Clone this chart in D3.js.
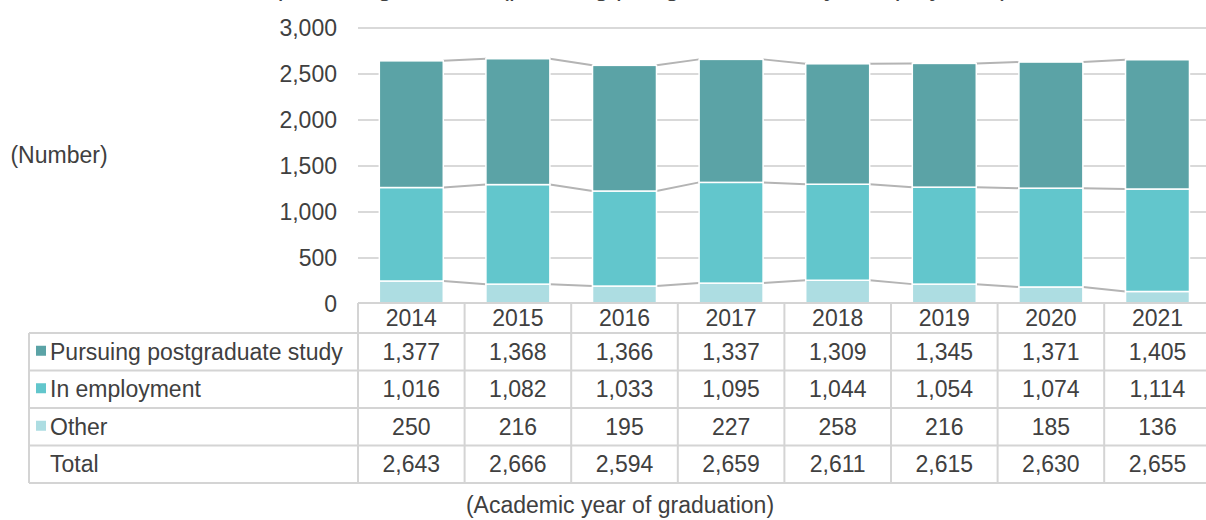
<!DOCTYPE html>
<html lang="en">
<head>
  <meta charset="UTF-8">
  <title>Career paths after graduation</title>
  <script src="https://d3js.org/d3.v7.min.js"></script>
  <style>
    body { margin: 0; background: #fff; }
    svg { display: block; font-family: "Liberation Sans", Arial, sans-serif; }
    text { fill: #404040; font-size: 23px; }
  </style>
</head>
<body>
<svg width="1206" height="520"></svg>
<script>
const years = ["2014", "2015", "2016", "2017", "2018", "2019", "2020", "2021"];
const postgrad = [1377, 1368, 1366, 1337, 1309, 1345, 1371, 1405];
const employment = [1016, 1082, 1033, 1095, 1044, 1054, 1074, 1114];
const other = [250, 216, 195, 227, 258, 216, 185, 136];
const totals = [2643, 2666, 2594, 2659, 2611, 2615, 2630, 2655];
const yTicks = [0, 500, 1000, 1500, 2000, 2500, 3000];

const seriesNames = ["Other", "In employment", "Pursuing postgraduate study"];
const colors = { "Other": "#addde2", "In employment": "#62c6cc", "Pursuing postgraduate study": "#5ba3a6" };

const svg = d3.select("svg");
const fmt = d3.format(",");

const left = 358, step = 106.6;
const x = d3.scaleBand().domain(years)
  .range([left, left + step * years.length])
  .paddingInner(0.4).paddingOuter(0.2);
const y = d3.scaleLinear().domain([0, 3000]).range([304, 28]);

// title sits above the frame, only its descenders peek in (as in the source)
svg.append("text")
  .attr("x", 600).attr("y", -4)
  .attr("text-anchor", "middle")
  .style("font-size", "26px")
  .text("Career paths of graduates (pursuing postgraduate study / employment)");

// gridlines
svg.append("g").selectAll("line")
  .data(yTicks.filter(d => d > 0))
  .join("line")
  .attr("x1", left).attr("x2", 1206)
  .attr("y1", d => y(d)).attr("y2", d => y(d))
  .attr("stroke", "#d9d9d9").attr("stroke-width", 2);

// y tick labels
svg.append("g").selectAll("text")
  .data(yTicks)
  .join("text")
  .attr("x", 337).attr("y", d => y(d) + 8)
  .attr("text-anchor", "end")
  .text(d => fmt(d));

svg.append("text").attr("x", 59).attr("y", 163)
  .attr("text-anchor", "middle").text("(Number)");

// stacked data
const rows = years.map((yr, i) => ({
  year: yr,
  "Other": other[i],
  "In employment": employment[i],
  "Pursuing postgraduate study": postgrad[i]
}));
const stacked = d3.stack().keys(seriesNames)(rows);

// series lines between bars
stacked.forEach(layer => {
  const segs = [];
  for (let i = 0; i < layer.length - 1; i++) {
    segs.push({
      x1: x(years[i]) + x.bandwidth(), y1: y(layer[i][1]),
      x2: x(years[i + 1]), y2: y(layer[i + 1][1])
    });
  }
  svg.append("g").selectAll("line")
    .data(segs)
    .join("line")
    .attr("x1", d => d.x1).attr("y1", d => d.y1)
    .attr("x2", d => d.x2).attr("y2", d => d.y2)
    .attr("stroke", "#b4b4b4").attr("stroke-width", 2);
});

// bars
svg.append("g").selectAll("g")
  .data(stacked)
  .join("g")
  .attr("fill", d => colors[d.key])
  .selectAll("rect")
  .data(d => d)
  .join("rect")
  .attr("x", d => x(d.data.year))
  .attr("width", x.bandwidth())
  .attr("y", d => y(d[1]))
  .attr("height", d => y(d[0]) - y(d[1]))
  .attr("stroke", "#fff").attr("stroke-width", 1.5);

// data table
const tableTop = 303, headH = 30, rowH = 37.5, labelLeft = 29;
const tableRows = [
  { name: "Pursuing postgraduate study", values: postgrad, color: colors["Pursuing postgraduate study"] },
  { name: "In employment", values: employment, color: colors["In employment"] },
  { name: "Other", values: other, color: colors["Other"] },
  { name: "Total", values: totals, color: null }
];
const tableBottom = tableTop + headH + rowH * tableRows.length;
const colEdge = i => left + step * i;
const grid = svg.append("g").attr("stroke", "#d4d4d4").attr("stroke-width", 2);

grid.append("line").attr("x1", left).attr("x2", 1206)
  .attr("y1", tableTop).attr("y2", tableTop);
d3.range(tableRows.length + 1).forEach(r => {
  const yy = tableTop + headH + rowH * r;
  grid.append("line").attr("x1", labelLeft).attr("x2", 1206).attr("y1", yy).attr("y2", yy);
});
grid.append("line").attr("x1", labelLeft).attr("x2", labelLeft)
  .attr("y1", tableTop + headH).attr("y2", tableBottom);
d3.range(years.length + 1).forEach(c => {
  grid.append("line").attr("x1", colEdge(c)).attr("x2", colEdge(c))
    .attr("y1", tableTop).attr("y2", tableBottom);
});

// header years
svg.append("g").selectAll("text")
  .data(years)
  .join("text")
  .attr("x", d => x(d) + x.bandwidth() / 2)
  .attr("y", tableTop + headH / 2 + 8)
  .attr("text-anchor", "middle")
  .text(d => d);

tableRows.forEach((row, r) => {
  const cy = tableTop + headH + rowH * r + rowH / 2;
  if (row.color) {
    svg.append("rect").attr("x", 36).attr("y", cy - 6).attr("width", 10).attr("height", 10)
      .attr("fill", row.color);
  }
  svg.append("text").attr("x", 50).attr("y", cy + 8).text(row.name);
  svg.append("g").selectAll("text")
    .data(row.values)
    .join("text")
    .attr("x", (d, i) => x(years[i]) + x.bandwidth() / 2)
    .attr("y", cy + 8)
    .attr("text-anchor", "middle")
    .text(d => fmt(d));
});

svg.append("text").attr("x", 620).attr("y", 513)
  .attr("text-anchor", "middle").text("(Academic year of graduation)");
</script>
</body>
</html>
